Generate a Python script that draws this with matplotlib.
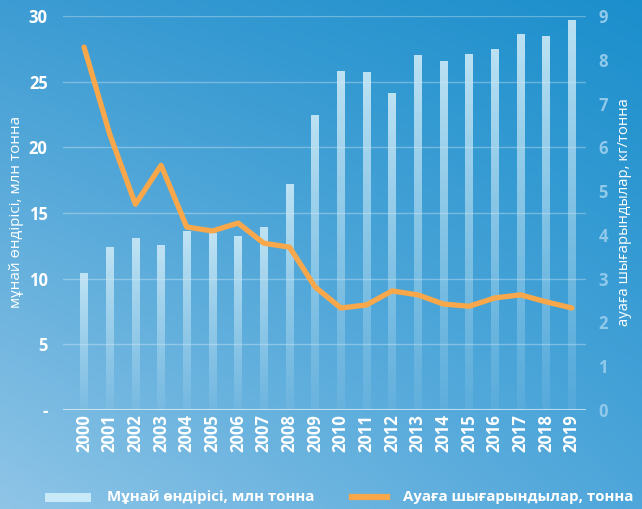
import numpy as np
import matplotlib
matplotlib.use("Agg")
import matplotlib.pyplot as plt
from matplotlib.patches import Rectangle
from matplotlib.lines import Line2D

years = [str(y) for y in range(2000, 2020)]
oil_output = [10.4, 12.4, 13.1, 12.6, 13.6, 13.5, 13.25, 13.9, 17.2, 22.5,
              25.8, 25.7, 24.1, 27.0, 26.6, 27.1, 27.5, 28.6, 28.5, 29.7]
emissions = [8.29, 6.3, 4.7, 5.59, 4.18, 4.09, 4.27, 3.81, 3.72, 2.81,
             2.33, 2.40, 2.72, 2.63, 2.42, 2.37, 2.56, 2.63, 2.47, 2.33]
left_ticks = [0, 5, 10, 15, 20, 25, 30]
left_labels = ["-", "5", "10", "15", "20", "25", "30"]
right_ticks = list(range(10))

bar_label = "Мұнай өндірісі, млн тонна"
line_label = "Ауаға шығарындылар, тонна"
left_title = "мұнай өндірісі, млн тонна"
right_title = "ауаға шығарындылар, кг/тонна"

plt.rcParams["font.family"] = ["Open Sans", "DejaVu Sans"]

W, H = 642, 509
fig = plt.figure(figsize=(W / 100, H / 100), dpi=100)

# background gradient
bg = fig.add_axes([0, 0, 1, 1], zorder=-10)
bg.axis("off")
tl = np.array([0x3d, 0x9c, 0xd3]) / 255
tr = np.array([0x1b, 0x8f, 0xcc]) / 255
bl = np.array([0x8f, 0xc5, 0xe7]) / 255
br = np.array([0x4e, 0xa6, 0xda]) / 255
u = np.linspace(0, 1, 200)[None, :, None]
v = np.linspace(1, 0, 200)[:, None, None]
img = (tl * (1 - u) * v + tr * u * v + bl * (1 - u) * (1 - v) + br * u * (1 - v))
bg.imshow(img, extent=[0, 1, 0, 1], aspect="auto")
bg.set_xlim(0, 1)
bg.set_ylim(0, 1)

ax = fig.add_axes([63 / W, 1 - 410 / H, (586 - 63) / W, (410 - 16) / H])
ax.set_facecolor("none")
x = np.arange(len(years))

# bars with vertical fade
bars = ax.bar(x, oil_output, width=0.29, facecolor="none", edgecolor="none", zorder=2)
grad = np.zeros((100, 1, 4))
grad[:, 0, 0] = 0.80
grad[:, 0, 1] = 0.92
grad[:, 0, 2] = 0.97
grad[:, 0, 3] = np.linspace(0.9, 0.08, 100)
for rect in bars:
    x0, w, h = rect.get_x(), rect.get_width(), rect.get_height()
    im = ax.imshow(grad, extent=[x0, x0 + w, 0, h], aspect="auto", zorder=2)
    im.set_clip_path(rect)

for t in left_ticks[1:]:
    ax.axhline(t, color="white", alpha=0.3, lw=1, zorder=1)
ax.axhline(0, color="white", alpha=0.6, lw=1.5, zorder=3)

ax.set_xlim(-0.82, 19.55)
ax.set_ylim(0, 30)
ax.set_yticks(left_ticks)
ax.set_yticklabels(left_labels)
ax.set_xticks(x)
ax.set_xticklabels(years, rotation=90)
ax.tick_params(axis="y", length=0, pad=11, labelsize=12, labelcolor="white")
ax.tick_params(axis="x", length=0, pad=3, labelsize=12, labelcolor="white")
for lab in ax.get_xticklabels() + ax.get_yticklabels():
    lab.set_fontweight("bold")
for s in ax.spines.values():
    s.set_visible(False)

ax2 = ax.twinx()
ax2.plot(x, emissions, color="#f8a84a", lw=3.8, solid_joinstyle="round",
         solid_capstyle="round", zorder=4)
ax2.set_ylim(0, 9)
ax2.set_yticks(right_ticks)
ax2.tick_params(axis="y", length=0, pad=9, labelsize=12, labelcolor="#90c9ea")
for lab in ax2.get_yticklabels():
    lab.set_fontweight("bold")
for s in ax2.spines.values():
    s.set_visible(False)

fig.text(17 / W, 1 - 212 / H, left_title, rotation=90, ha="center", va="center",
         color="white", fontsize=11)
fig.text(625 / W, 1 - 212 / H, right_title, rotation=90, ha="center", va="center",
         color="white", fontsize=10.7)

# legend drawn by hand
fig.add_artist(Rectangle((45 / W, 1 - 502 / H), 46 / W, 9 / H,
                         transform=fig.transFigure, facecolor="#c8e9f7", edgecolor="none"))
fig.text(107 / W, 1 - 497 / H, bar_label, ha="left", va="center", color="white",
         fontsize=10.8, fontweight="bold")
fig.add_artist(Line2D([352 / W, 387 / W], [1 - 497 / H, 1 - 497 / H],
                      transform=fig.transFigure, color="#f8a84a", lw=4.5))
fig.text(403 / W, 1 - 497 / H, line_label, ha="left", va="center", color="white",
         fontsize=10.8, fontweight="bold")

fig.savefig("out.png", dpi=100)
